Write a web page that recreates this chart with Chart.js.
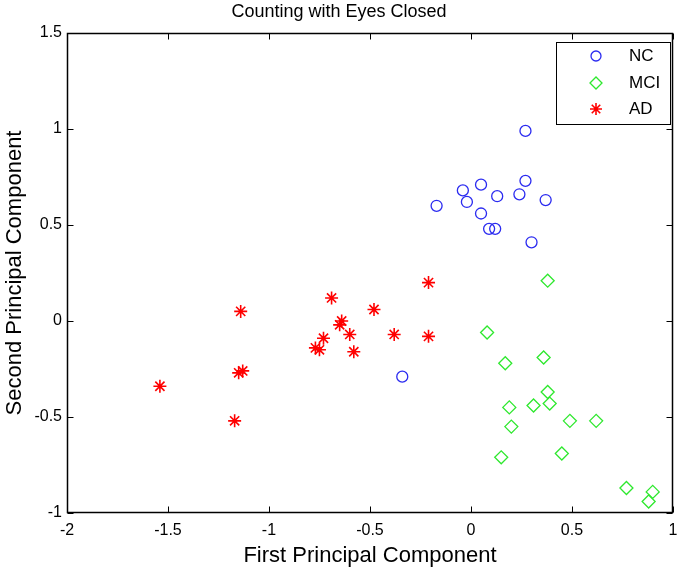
<!DOCTYPE html>
<html>
<head>
<meta charset="utf-8">
<title>Counting with Eyes Closed</title>
<script src="https://cdn.jsdelivr.net/npm/chart.js@4/dist/chart.umd.min.js"></script>
<style>
  body { margin: 0; background: #fff; }
  #wrap { width: 681px; height: 570px; }
</style>
</head>
<body>
<div id="wrap"><canvas id="pcaChart" width="681" height="570"></canvas></div>
<script>
// values
const ncX = [0.27, 0.27, 0.05, -0.04, -0.02, 0.13, 0.24, 0.37, -0.17, 0.05, 0.09, 0.12, 0.30, -0.34];
const ncY = [0.99, 0.73, 0.71, 0.68, 0.62, 0.65, 0.66, 0.63, 0.60, 0.56, 0.48, 0.48, 0.41, -0.29];

const mciX = [0.38, 0.08, 0.17, 0.36, 0.38, 0.39, 0.31, 0.19, 0.20, 0.49, 0.62, 0.45, 0.15, 0.77, 0.90, 0.88];
const mciY = [0.21, -0.06, -0.22, -0.19, -0.37, -0.43, -0.44, -0.45, -0.55, -0.52, -0.52, -0.69, -0.71, -0.87, -0.89, -0.94];

const adX = [-0.21, -0.69, -0.48, -1.14, -0.64, -0.65, -0.60, -0.38, -0.21, -0.73, -0.77, -0.75, -0.58, -1.15, -1.13, -1.54, -1.17];
const adY = [0.20, 0.12, 0.06, 0.05, 0.00, -0.02, -0.07, -0.07, -0.08, -0.09, -0.14, -0.15, -0.16, -0.27, -0.26, -0.34, -0.52];

const groupLabels = ['NC', 'MCI', 'AD'];
const xTicks = [-2, -1.5, -1, -0.5, 0, 0.5, 1];
const yTicks = [-1, -0.5, 0, 0.5, 1, 1.5];

const toPoints = (xs, ys) => xs.map((x, i) => ({ x: x, y: ys[i] }));

Chart.defaults.font.family = "'Liberation Sans', Arial, sans-serif";
Chart.defaults.color = '#000';

// matlab style box, inward ticks and legend
const matlabFrame = {
  id: 'matlabFrame',
  afterDatasetsDraw(chart) {
    const ctx = chart.ctx;
    const a = chart.chartArea;
    const xs = chart.scales.x, ys = chart.scales.y;
    const L = Math.round(a.left) + 0.5, R = Math.round(a.right) - 0.5;
    const T = Math.round(a.top) + 0.5, B = Math.round(a.bottom) - 0.5;
    const tick = 6;

    ctx.save();
    ctx.strokeStyle = '#000';
    ctx.lineWidth = 1;
    ctx.beginPath();
    xs.ticks.forEach(t => {
      const px = Math.round(xs.getPixelForValue(t.value)) + 0.5;
      ctx.moveTo(px, B); ctx.lineTo(px, B - tick);
      ctx.moveTo(px, T); ctx.lineTo(px, T + tick);
    });
    ys.ticks.forEach(t => {
      const py = Math.round(ys.getPixelForValue(t.value)) + 0.5;
      ctx.moveTo(L, py); ctx.lineTo(L + tick, py);
      ctx.moveTo(R, py); ctx.lineTo(R - tick, py);
    });
    ctx.stroke();

    // legend box
    const box = { left: 556.5, top: 42.5, right: 670.5, bottom: 124.5 };
    ctx.fillStyle = '#fff';
    ctx.fillRect(box.left, box.top, box.right - box.left, box.bottom - box.top);
    ctx.lineWidth = 1;
    ctx.strokeRect(box.left, box.top, box.right - box.left, box.bottom - box.top);
    ctx.lineWidth = 1.5;
    ctx.strokeRect(L, T, R - L, B - T);

    ctx.font = "17px 'Liberation Sans', Arial, sans-serif";
    ctx.textBaseline = 'middle';
    ctx.textAlign = 'left';
    const rowY = [56, 83, 109];
    chart.data.datasets.forEach((ds, i) => {
      const y = rowY[i];
      ctx.strokeStyle = ds.borderColor;
      ctx.fillStyle = 'rgba(0,0,0,0)';
      ctx.lineWidth = ds.pointBorderWidth;
      if (Chart.helpers && Chart.helpers.drawPoint) {
        Chart.helpers.drawPoint(ctx, {
          pointStyle: ds.pointStyle, radius: ds.pointRadius - 0.5,
          borderWidth: ds.pointBorderWidth, rotation: 0
        }, 596, y);
      }
      ctx.fillStyle = '#000';
      ctx.fillText(ds.label, 629, y);
    });
    ctx.restore();
  }
};

const fmt = v => String(v);

const ctx = document.getElementById('pcaChart').getContext('2d');
const pcaChart = new Chart(ctx, {
  type: 'scatter',
  data: {
    datasets: [
      {
        label: groupLabels[0],
        data: toPoints(ncX, ncY),
        pointStyle: 'circle',
        pointRadius: 5.5,
        pointBorderWidth: 1.3,
        borderColor: '#2b2bf0',
        backgroundColor: 'rgba(0,0,0,0)'
      },
      {
        label: groupLabels[1],
        data: toPoints(mciX, mciY),
        pointStyle: 'rectRot',
        pointRadius: 6.5,
        pointBorderWidth: 1.3,
        borderColor: '#2ee82e',
        backgroundColor: 'rgba(0,0,0,0)'
      },
      {
        label: groupLabels[2],
        data: toPoints(adX, adY),
        pointStyle: 'star',
        pointRadius: 6.5,
        pointBorderWidth: 1.6,
        borderColor: '#ff0000',
        backgroundColor: '#ff0000'
      }
    ]
  },
  options: {
    responsive: false,
    animation: false,
    layout: { padding: { left: 0, right: 3, top: 0, bottom: 0 } },
    plugins: {
      legend: { display: false },
      tooltip: { enabled: false },
      title: {
        display: true,
        text: 'Counting with Eyes Closed',
        color: '#000',
        font: { size: 18, weight: 'normal' },
        padding: { top: 1.4, bottom: 10 }
      }
    },
    scales: {
      x: {
        type: 'linear',
        min: xTicks[0],
        max: xTicks[xTicks.length - 1],
        afterBuildTicks: s => { s.ticks = xTicks.map(v => ({ value: v })); },
        ticks: { font: { size: 16 }, color: '#000', padding: 8, maxRotation: 0, callback: fmt },
        grid: { display: false, drawTicks: false },
        border: { display: false },
        title: {
          display: true,
          text: 'First Principal Component',
          font: { size: 22 },
          color: '#000',
          padding: { top: 0, bottom: 0.5 }
        },
        afterFit: s => { s.height = 57; s.paddingLeft = 0; s.paddingRight = 0; }
      },
      y: {
        type: 'linear',
        min: yTicks[0],
        max: yTicks[yTicks.length - 1],
        afterBuildTicks: s => { s.ticks = yTicks.map(v => ({ value: v })); },
        ticks: { font: { size: 16 }, color: '#000', padding: 5, callback: fmt },
        grid: { display: false, drawTicks: false },
        border: { display: false },
        title: {
          display: true,
          text: 'Second Principal Component',
          font: { size: 22 },
          color: '#000',
          padding: { top: 1.8, bottom: 0 }
        },
        afterFit: s => { s.width = 67; s.paddingTop = 0; s.paddingBottom = 0; }
      }
    }
  },
  plugins: [matlabFrame]
});
</script>
</body>
</html>
